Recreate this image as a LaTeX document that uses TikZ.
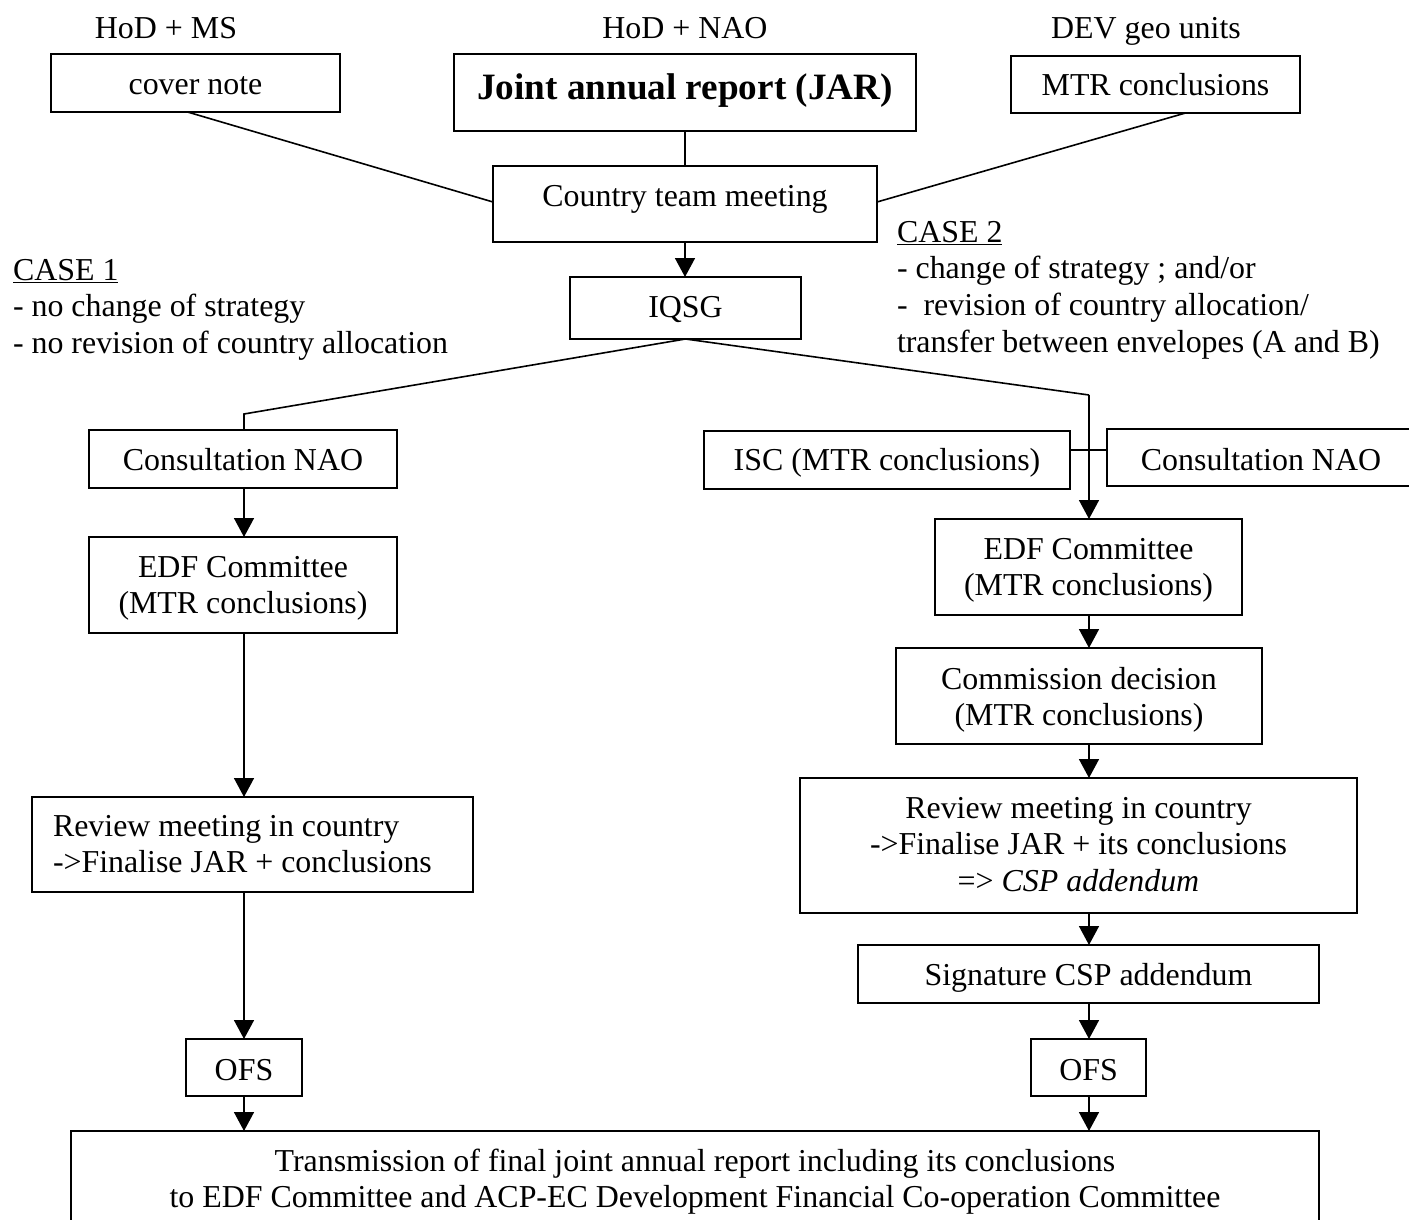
\documentclass[tikz,border=0pt]{standalone}
\usepackage{fontspec}
\setmainfont{Liberation Serif}
\usetikzlibrary{arrows.meta,calc}
\begin{document}
\begin{tikzpicture}[x=1pt,y=-1pt,
  every node/.style={font=\fontsize{31.9}{36.8}\selectfont, inner sep=0pt, outer sep=0pt},
  bx/.style={draw, line width=2pt},
  txt/.style={anchor=base},
  ltxt/.style={anchor=base west},
  ln/.style={line width=1.6pt},
  thinln/.style={line width=1.3pt},
  arr/.style={line width=1.6pt, -{Triangle[width=20pt,length=19pt]}},
  bold/.style={font=\fontsize{37.2}{42}\selectfont\bfseries}
]
\useasboundingbox (0,0) rectangle (1409,1220);
\fill[white] (0,0) rectangle (1409,1220);
\clip (0,0) rectangle (1409,1220);

% boxes
\node[bx, minimum width=289pt, minimum height=58pt] (cn) at (195.5,83) {};
\node[bx, minimum width=462pt, minimum height=77pt] (jar) at (685,92.5) {};
\node[bx, minimum width=289pt, minimum height=57pt] (mtr) at (1155.5,84.5) {};
\node[bx, minimum width=384pt, minimum height=76pt] (ctm) at (685,204) {};
\node[bx, minimum width=231pt, minimum height=62pt] (iqsg) at (685.5,308) {};
\node[bx, minimum width=308pt, minimum height=58pt] (cnl) at (243,459) {};
\node[bx, minimum width=308pt, minimum height=96pt] (edfl) at (243,585) {};
\node[bx, minimum width=441pt, minimum height=95pt] (revl) at (252.5,844.5) {};
\node[bx, minimum width=116pt, minimum height=57pt] (ofsl) at (244,1067.5) {};
\node[bx, minimum width=366pt, minimum height=58pt] (isc) at (887,460) {};
\node[bx, minimum width=308pt, minimum height=57pt] (cnr) at (1261,457.5) {};
\node[bx, minimum width=307pt, minimum height=96pt] (edfr) at (1088.5,567) {};
\node[bx, minimum width=366pt, minimum height=96pt] (comm) at (1079,696) {};
\node[bx, minimum width=557pt, minimum height=135pt] (revr) at (1078.5,845.5) {};
\node[bx, minimum width=461pt, minimum height=58pt] (sig) at (1088.5,974) {};
\node[bx, minimum width=115pt, minimum height=57pt] (ofsr) at (1088.5,1067.5) {};
\node[bx, minimum width=1248pt, minimum height=95pt] (fin) at (695,1178.5) {};

% texts
\node[txt] (t1) at (166,39) {HoD + MS};
\node[txt] (t2) at (685,39) {HoD + NAO};
\node[txt] (t3) at (1146,39) {DEV geo units};
\node[txt] (tcn) at (195.5,95) {cover note};
\node[txt, bold] (tjar) at (685,100) {Joint annual report (JAR)};
\node[txt] (tmtr) at (1155.5,96) {MTR conclusions};
\node[txt] (tctm) at (685,207) {Country team meeting};
\node[txt] (tiq) at (685.5,317) {IQSG};
\node[ltxt] (case1) at (13,280) {\begin{tabular}[t]{@{}l@{}}\underline{CASE 1}\\- no change of strategy\\- no revision of country allocation\end{tabular}};
\node[ltxt] (case2) at (897,242) {\begin{tabular}[t]{@{}l@{}}\underline{CASE 2}\\- change of strategy ; and/or\\-\ \ revision of country allocation/\\transfer between envelopes (A and B)\end{tabular}};
\node[txt] (tcnl) at (243,470) {Consultation NAO};
\node[txt] (tedfl) at (243,577) {\begin{tabular}[t]{@{}c@{}}EDF Committee\\(MTR conclusions)\end{tabular}};
\node[ltxt] (trevl) at (53,836) {\begin{tabular}[t]{@{}l@{}}Review meeting in country\\->Finalise JAR + conclusions\end{tabular}};
\node[txt] (tofsl) at (244,1080) {OFS};
\node[txt] (tisc) at (887,470) {ISC (MTR conclusions)};
\node[txt] (tcnr) at (1261,470) {Consultation NAO};
\node[txt] (tedfr) at (1088.5,559) {\begin{tabular}[t]{@{}c@{}}EDF Committee\\(MTR conclusions)\end{tabular}};
\node[txt] (tcomm) at (1079,689) {\begin{tabular}[t]{@{}c@{}}Commission decision\\(MTR conclusions)\end{tabular}};
\node[txt] (trevr) at (1078.5,818) {\begin{tabular}[t]{@{}c@{}}Review meeting in country\\->Finalise JAR + its conclusions\\=> \textit{CSP addendum}\end{tabular}};
\node[txt] (tsig) at (1088.5,985) {Signature CSP addendum};
\node[txt] (tofsr) at (1088.5,1080) {OFS};
\node[txt] (tfin) at (695,1171) {\begin{tabular}[t]{@{}c@{}}Transmission of final joint annual report including its conclusions\\to EDF Committee and ACP-EC Development Financial Co-operation Committee\end{tabular}};

% connectors
\coordinate (kl) at (244,414);
\coordinate (kr) at (1089,395);
\coordinate (hy) at (0,450);
\draw[ln] ([xshift=-8pt]cn.south) -- ([yshift=2pt]ctm.west);
\draw[thinln] (jar.south) -- (ctm.north);
\draw[ln] ([xshift=30pt]mtr.south) -- ([yshift=2pt]ctm.east);
\draw[arr] (ctm.south) -- (ctm.south |- iqsg.north);
\draw[ln] (iqsg.south) -- (kl) -- (kl |- cnl.north);
\draw[ln] (iqsg.south) -- (kr);
\draw[ln] ([yshift=-8pt]kr) -- (kr);
\draw[arr] (kr) -- (kr |- edfr.north);
\draw[ln] (isc.east |- hy) -- (cnr.west |- hy);
\draw[arr] (kl |- cnl.south) -- (kl |- edfl.north);
\draw[arr] (kl |- edfl.south) -- (kl |- revl.north);
\draw[arr] (kl |- revl.south) -- (kl |- ofsl.north);
\draw[arr] (kl |- ofsl.south) -- (kl |- fin.north);
\draw[arr] (kr |- edfr.south) -- (kr |- comm.north);
\draw[arr] (kr |- comm.south) -- (kr |- revr.north);
\draw[arr] (kr |- revr.south) -- (kr |- sig.north);
\draw[arr] (kr |- sig.south) -- (kr |- ofsr.north);
\draw[arr] (kr |- ofsr.south) -- (kr |- fin.north);
\end{tikzpicture}
\end{document}
